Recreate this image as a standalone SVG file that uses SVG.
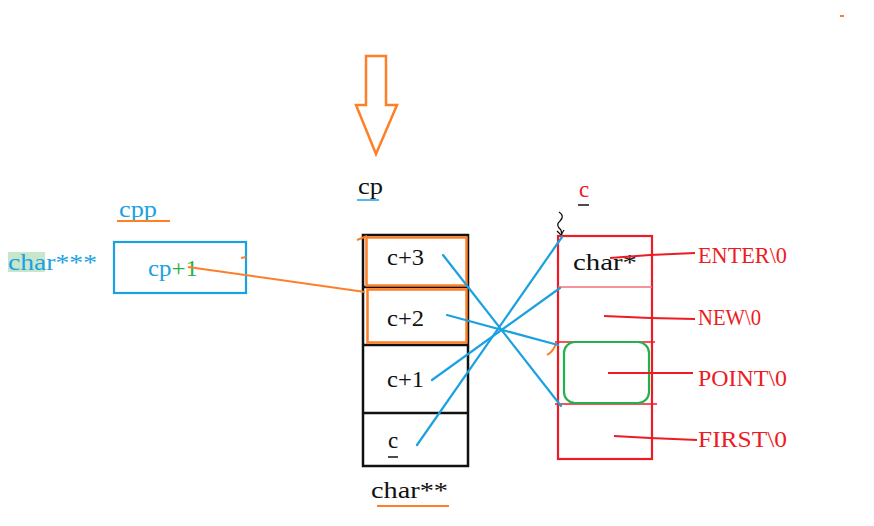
<svg xmlns="http://www.w3.org/2000/svg" width="874" height="526" viewBox="0 0 874 526">
<style>
.t{font-family:"Liberation Serif","Times New Roman",serif;font-size:23px}
.blk{fill:#111}
.blu{fill:#1ba1e2}
.red{fill:#ed1c24}
.grn{fill:#22b14c}
.lab{font-family:"Liberation Serif","Times New Roman",serif;font-size:24px;fill:#ed1c24}
.bl{stroke:#1ba1e2;stroke-width:2.2;fill:none;stroke-linecap:round}
.rl{stroke:#ed1c24;stroke-width:2;fill:none}
.ol{stroke:#ff7f27;stroke-width:2;fill:none}
</style>
<rect width="874" height="526" fill="#fff"/>

<g id="bigArrow">
<path d="M366,56 L386,56 L386,105 L397,105 L376,154 L356,105 L366,105 Z" fill="none" stroke="#ff7f27" stroke-width="2.5" stroke-linejoin="miter"/>
</g>
<g id="dot"><rect x="840" y="15" width="4" height="2" fill="#ff7f27"/></g>

<g id="cpp">
<rect x="8" y="252" width="37" height="20" fill="#c8e6cc"/>
<text class="t blu" x="8" y="270" textLength="89" lengthAdjust="spacingAndGlyphs">char***</text>
<text class="t blu" x="119" y="217" textLength="38" lengthAdjust="spacingAndGlyphs">cpp</text>
<line x1="117" y1="221" x2="170" y2="221" class="ol"/>
<rect x="114" y="242" width="132" height="51" fill="none" stroke="#1ba1e2" stroke-width="2.2"/>
<text class="t" x="148" y="276" textLength="50" lengthAdjust="spacingAndGlyphs"><tspan class="blu">cp</tspan><tspan class="grn">+1</tspan></text>
<line x1="241" y1="258" x2="246" y2="257" class="ol"/>
</g>

<g id="cpLabel">
<text class="t blk" x="358" y="194" textLength="25" lengthAdjust="spacingAndGlyphs">cp</text>
<line x1="357" y1="200" x2="379" y2="200" stroke="#1ba1e2" stroke-width="1.5"/>
</g>

<g id="charPP">
<rect x="363" y="235" width="105" height="231" fill="none" stroke="#111" stroke-width="2.5"/>
<line x1="363" y1="287" x2="468" y2="287" stroke="#111" stroke-width="2.5"/>
<line x1="363" y1="345" x2="468" y2="345" stroke="#111" stroke-width="2.5"/>
<line x1="363" y1="413" x2="468" y2="413" stroke="#111" stroke-width="2.5"/>
<rect x="366.5" y="237.5" width="100" height="48" fill="none" stroke="#ff7f27" stroke-width="2.5"/>
<rect x="367.5" y="289.5" width="99" height="53" fill="none" stroke="#ff7f27" stroke-width="2.5"/>
<text class="t blk" x="387" y="265" textLength="37" lengthAdjust="spacingAndGlyphs">c+3</text>
<text class="t blk" x="387" y="326" textLength="37" lengthAdjust="spacingAndGlyphs">c+2</text>
<text class="t blk" x="387" y="387" textLength="37" lengthAdjust="spacingAndGlyphs">c+1</text>
<text class="t blk" x="388" y="448">c</text>
<line x1="388" y1="457" x2="398" y2="457" stroke="#111" stroke-width="1.5"/>
<text class="t blk" x="371" y="498" textLength="77" lengthAdjust="spacingAndGlyphs">char**</text>
<line x1="377" y1="506" x2="449" y2="506" class="ol"/>
<line x1="357" y1="240" x2="367" y2="236" class="ol" stroke-width="1.5"/>
</g>

<g id="charP">
<text class="t red" x="579" y="197">c</text>
<line x1="578" y1="205" x2="589" y2="205" stroke="#111" stroke-width="1.5"/>
<path d="M559,212 q6,4 1,9 q-5,4 1,9 l1,5 M557,231 l4,4 l3,-5" fill="none" stroke="#111" stroke-width="1.3"/>
<rect x="558" y="236" width="94" height="223" fill="none" stroke="#ed1c24" stroke-width="2.2"/>
<line x1="558" y1="287" x2="652" y2="287" stroke="#f07078" stroke-width="1.5"/>
<line x1="555" y1="342" x2="655" y2="342" stroke="#ed1c24" stroke-width="1.5"/>
<line x1="555" y1="404" x2="657" y2="404" stroke="#ed1c24" stroke-width="1.5"/>
<rect x="564" y="342" width="85" height="61" rx="11" fill="none" stroke="#22b14c" stroke-width="2.2"/>
<text class="t blk" x="573" y="270" textLength="64" lengthAdjust="spacingAndGlyphs">char*</text>
<path d="M556,343 q-2,8 -9,12" class="ol" stroke-width="1.5"/>
</g>

<g id="strings">
<text class="lab" x="698" y="263" textLength="89" lengthAdjust="spacingAndGlyphs">ENTER\0</text>
<text class="lab" x="698" y="325" textLength="63" lengthAdjust="spacingAndGlyphs">NEW\0</text>
<text class="lab" x="698" y="386" textLength="89" lengthAdjust="spacingAndGlyphs">POINT\0</text>
<text class="lab" x="698" y="447" textLength="89" lengthAdjust="spacingAndGlyphs">FIRST\0</text>
</g>

<g id="connectors">
<line x1="188" y1="267" x2="365" y2="292" class="ol"/>
<line x1="443" y1="255" x2="561" y2="406" class="bl"/>
<line x1="447" y1="315" x2="558" y2="345" class="bl"/>
<line x1="432" y1="380" x2="560" y2="288" class="bl"/>
<line x1="417" y1="445" x2="562" y2="237" class="bl"/>
<polyline points="610,258 650,255 695,253" class="rl"/>
<polyline points="604,316 650,318 695,319" class="rl"/>
<line x1="608" y1="373" x2="693" y2="373" class="rl"/>
<polyline points="614,436 650,438 697,440" class="rl"/>
</g>
</svg>
